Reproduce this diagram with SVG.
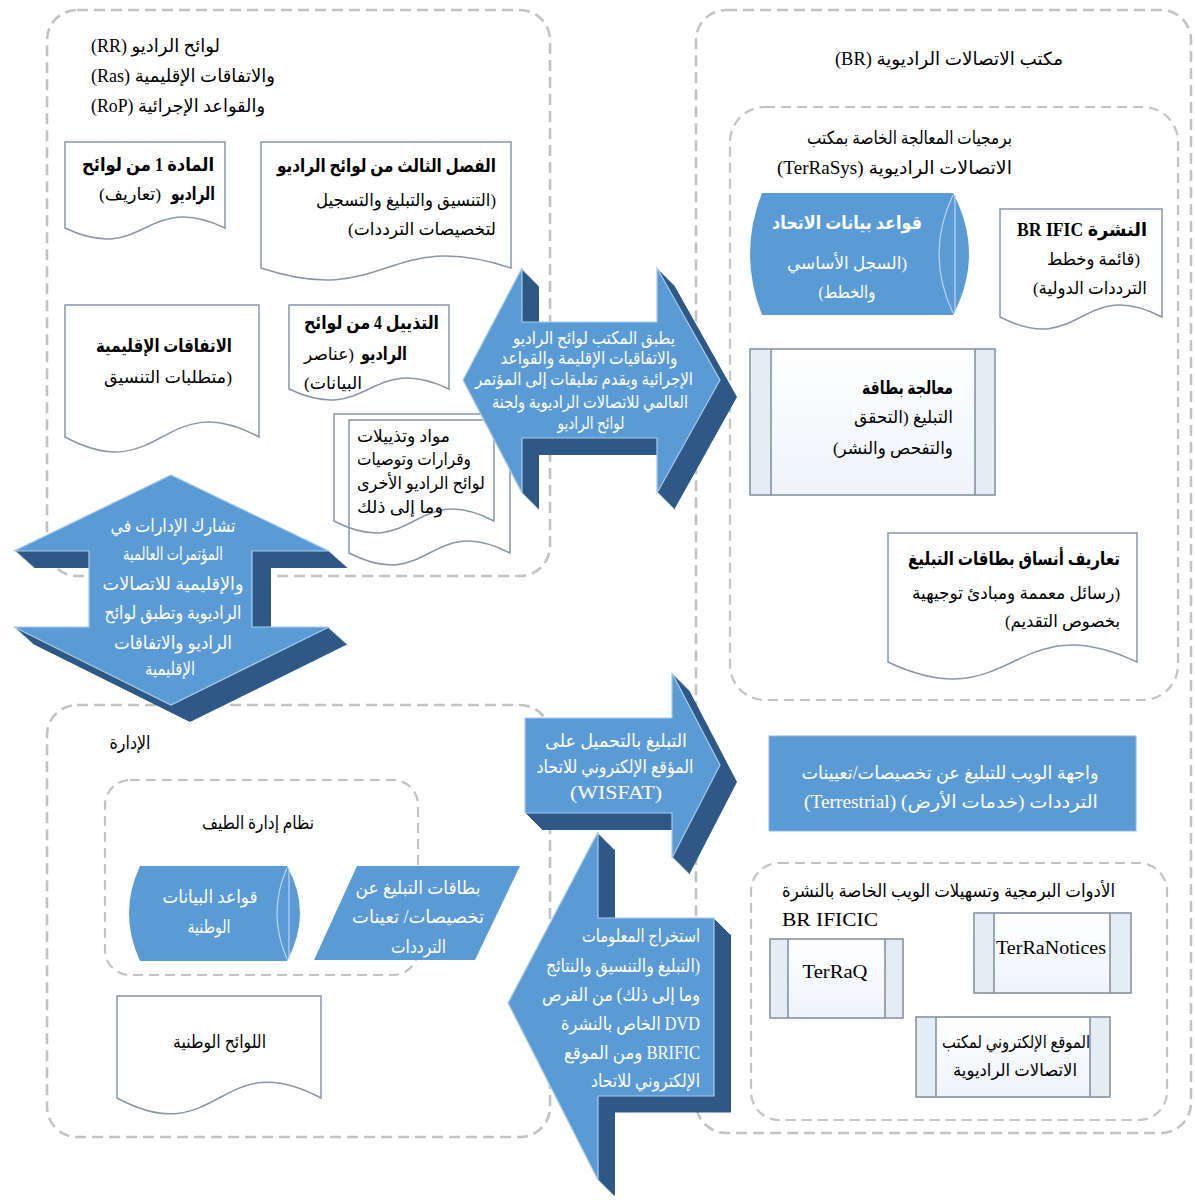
<svg xmlns="http://www.w3.org/2000/svg" width="1195" height="1200" viewBox="0 0 1195 1200">
<style>
.cont{fill:none;stroke:#c3c3c3;stroke-width:2.6;stroke-dasharray:11 6}
.cont2{fill:none;stroke:#c3c3c3;stroke-width:2.2;stroke-dasharray:10 6}
.doc{fill:#fff;stroke:#8796a8;stroke-width:1.5}
.docn{fill:none;stroke:#8796a8;stroke-width:1.5}
.front{fill:#5b9bd5;stroke:#a9cbea;stroke-width:1.2}
.dark{fill:#2e5885}
.blue{fill:#5b9bd5}
.proc{fill:url(#pg);stroke:#7f8c9b;stroke-width:1.5}
.side{fill:#e4edf6}
.pl{stroke:#7f8c9b;stroke-width:1.5;fill:none}
text{font-family:'Liberation Serif','DejaVu Sans',serif;font-size:17.5px;fill:#000;direction:rtl;unicode-bidi:embed}
.w{fill:#fff}
.b{font-weight:bold;font-size:18.5px}
.t{font-size:18px}
.lat{font-family:'Liberation Serif',serif;font-size:19px;direction:ltr}
</style>
<defs>
<linearGradient id="pg" x1="0" y1="0" x2="0" y2="1"><stop offset="0" stop-color="#ffffff"/><stop offset="1" stop-color="#eef4fa"/></linearGradient>
<polygon id="ca" points="463,380 522,268 522,322 657,322 657,268 720,380 657,493 657,438 522,438 522,493"/>
<polygon id="ud" points="171,475 329,551 252,551 252,627 329,627 171,705 14,627 89,627 89,551 14,551"/>
<polygon id="wa" points="525,718 672,718 672,673 720,765 672,858 672,813 525,813"/>
<polygon id="ex" points="508,1003 598,832 598,918 714,918 714,1096 598,1096 598,1180"/>
</defs>

<g id="containers">
<rect id="grp-rr" class="cont" x="47" y="10" width="503" height="566" rx="30"/>
<rect id="grp-admin" class="cont" x="47" y="705" width="503" height="432" rx="30"/>
<rect id="grp-br" class="cont" x="696" y="10" width="495" height="1123" rx="30"/>
<rect id="grp-terrasys" class="cont2" x="730" y="107" width="448" height="593" rx="35"/>
<rect id="grp-tools" class="cont2" x="751" y="863" width="416" height="257" rx="28"/>
<rect id="grp-sms" class="cont2" x="105" y="780" width="313" height="195" rx="25"/>
<text x="155.5" y="52" text-anchor="middle" textLength="129" lengthAdjust="spacingAndGlyphs" class="t">لوائح الراديو (RR)</text>
<text x="183" y="82" text-anchor="middle" textLength="184" lengthAdjust="spacingAndGlyphs" class="t">والاتفاقات الإقليمية (Ras)</text>
<text x="178" y="112" text-anchor="middle" textLength="174" lengthAdjust="spacingAndGlyphs" class="t">والقواعد الإجرائية (RoP)</text>
<text x="130" y="749" text-anchor="middle" textLength="41" lengthAdjust="spacingAndGlyphs" class="t">الإدارة</text>
<text x="258" y="829" text-anchor="middle" textLength="112" lengthAdjust="spacingAndGlyphs" class="t">نظام إدارة الطيف</text>
<text x="949" y="65" text-anchor="middle" textLength="228" lengthAdjust="spacingAndGlyphs" class="t">مكتب الاتصالات الراديوية (BR)</text>
<text x="909.5" y="144" text-anchor="middle" textLength="205" lengthAdjust="spacingAndGlyphs" class="t">برمجيات المعالجة الخاصة بمكتب</text>
<text x="894.5" y="174" text-anchor="middle" textLength="235" lengthAdjust="spacingAndGlyphs" class="t">الاتصالات الراديوية (TerRaSys)</text>
<text x="948.5" y="897" text-anchor="middle" textLength="333" lengthAdjust="spacingAndGlyphs" class="t">الأدوات البرمجية وتسهيلات الويب الخاصة بالنشرة</text>
<text x="830" y="926" text-anchor="middle" textLength="96" lengthAdjust="spacingAndGlyphs" class="lat">BR IFICIC</text>
</g>

<g id="node-art1">
<path class="doc" d="M65,142 H225 V228 C145,190 145,266 65,228 Z"/>
<text x="148" y="171" text-anchor="middle" textLength="132" lengthAdjust="spacingAndGlyphs" class="b">المادة 1 من لوائح</text>
<text x="193" y="200" text-anchor="middle" textLength="44" lengthAdjust="spacingAndGlyphs" class="b">الراديو</text>
<text x="130" y="200" text-anchor="middle" textLength="62" lengthAdjust="spacingAndGlyphs">(تعاريف)</text>
</g>

<g id="node-ch3">
<path class="doc" d="M261,142 H511 V268 C386,226.5 386,309.5 261,268 Z"/>
<text x="386.5" y="172" text-anchor="middle" textLength="219" lengthAdjust="spacingAndGlyphs" class="b">الفصل الثالث من لوائح الراديو</text>
<text x="406" y="206" text-anchor="middle" textLength="180" lengthAdjust="spacingAndGlyphs">(التنسيق والتبليغ والتسجيل</text>
<text x="422" y="235" text-anchor="middle" textLength="148" lengthAdjust="spacingAndGlyphs">لتخصيصات الترددات)</text>
</g>

<g id="node-ra">
<path class="doc" d="M65,305 H259 V437 C162,385 162,489 65,437 Z"/>
<text x="164" y="352" text-anchor="middle" textLength="136" lengthAdjust="spacingAndGlyphs" class="b">الاتفاقات الإقليمية</text>
<text x="168" y="383" text-anchor="middle" textLength="128" lengthAdjust="spacingAndGlyphs">(متطلبات التنسيق</text>
</g>

<g id="node-ap4">
<path class="doc" d="M289,305 H449 V389 C369,351 369,427 289,389 Z"/>
<text x="371.5" y="329" text-anchor="middle" textLength="135" lengthAdjust="spacingAndGlyphs" class="b">التذييل 4 من لوائح</text>
<text x="384" y="360" text-anchor="middle" textLength="46" lengthAdjust="spacingAndGlyphs" class="b">الراديو</text>
<text x="329" y="360" text-anchor="middle" textLength="50" lengthAdjust="spacingAndGlyphs">(عناصر</text>
<text x="333" y="389" text-anchor="middle" textLength="58" lengthAdjust="spacingAndGlyphs">البيانات)</text>
</g>

<g id="node-other">
<path class="doc" d="M349,420 H510 V553 C429.5,511.5 429.5,594.5 349,553 Z"/>
<path class="docn" d="M334,414 H494 V521 C414,479.5 414,562.5 334,521 Z"/>
<text x="403.5" y="442" text-anchor="middle" textLength="93" lengthAdjust="spacingAndGlyphs">مواد وتذييلات</text>
<text x="414" y="465" text-anchor="middle" textLength="114" lengthAdjust="spacingAndGlyphs">وقرارات وتوصيات</text>
<text x="421" y="489" text-anchor="middle" textLength="128" lengthAdjust="spacingAndGlyphs">لوائح الراديو الأخرى</text>
<text x="400" y="513" text-anchor="middle" textLength="86" lengthAdjust="spacingAndGlyphs">وما إلى ذلك</text>
</g>

<g id="node-itudb">
<path class="blue" d="M762,193 H953 Q985,254 953,315 H762 Q738,254 762,193 Z"/>
<path d="M953,195 Q925,254 953,313 M955,195 V313" fill="none" stroke="#bcd6ee" stroke-width="1.2"/>
<text x="847" y="229" text-anchor="middle" textLength="150" lengthAdjust="spacingAndGlyphs" class="b w">قواعد بيانات الاتحاد</text>
<text x="847" y="269" text-anchor="middle" textLength="120" lengthAdjust="spacingAndGlyphs" class="w">(السجل الأساسي</text>
<text x="847" y="298" text-anchor="middle" textLength="57" lengthAdjust="spacingAndGlyphs" class="w">والخطط)</text>
</g>

<g id="node-ific">
<path class="doc" d="M1000,209 H1162 V317 C1081,275.5 1081,358.5 1000,317 Z"/>
<text x="1082" y="236" text-anchor="middle" textLength="130" lengthAdjust="spacingAndGlyphs" class="b">النشرة BR IFIC</text>
<text x="1093.5" y="265" text-anchor="middle" textLength="93" lengthAdjust="spacingAndGlyphs">(قائمة وخطط</text>
<text x="1090" y="294" text-anchor="middle" textLength="114" lengthAdjust="spacingAndGlyphs">الترددات الدولية)</text>
</g>

<g id="node-proc">
<rect class="proc" x="750" y="349" width="245" height="146"/>
<rect class="side" x="751" y="350" width="20" height="144"/>
<rect class="side" x="975" y="350" width="19" height="144"/>
<path class="pl" d="M771,349 V495 M975,349 V495"/>
<text x="907.5" y="394" text-anchor="middle" textLength="91" lengthAdjust="spacingAndGlyphs" class="b">معالجة بطاقة</text>
<text x="903.5" y="423" text-anchor="middle" textLength="99" lengthAdjust="spacingAndGlyphs">التبليغ (التحقق</text>
<text x="893" y="454" text-anchor="middle" textLength="120" lengthAdjust="spacingAndGlyphs">والتفحص والنشر)</text>
</g>

<g id="node-formats">
<path class="doc" d="M888,533 H1137 V662 C1012.5,603 1012.5,721 888,662 Z"/>
<text x="1014" y="565" text-anchor="middle" textLength="212" lengthAdjust="spacingAndGlyphs" class="b">تعاريف أنساق بطاقات التبليغ</text>
<text x="1016" y="599" text-anchor="middle" textLength="208" lengthAdjust="spacingAndGlyphs">(رسائل معممة ومبادئ توجيهية</text>
<text x="1062.5" y="627" text-anchor="middle" textLength="115" lengthAdjust="spacingAndGlyphs">بخصوص التقديم)</text>
</g>

<g id="node-webif">
<rect x="769" y="736" width="367" height="95" fill="#5b9bd5" stroke="#8fb8e2" stroke-width="1"/>
<text x="950" y="779" text-anchor="middle" textLength="297" lengthAdjust="spacingAndGlyphs" class="w t">واجهة الويب للتبليغ عن تخصيصات/تعيينات</text>
<text x="951" y="808" text-anchor="middle" textLength="294" lengthAdjust="spacingAndGlyphs" class="w t">الترددات (خدمات الأرض) (Terrestrial)</text>
</g>

<g id="node-terraq">
<rect class="proc" x="770" y="939" width="133" height="79"/>
<rect class="side" x="771" y="940" width="17" height="77"/>
<rect class="side" x="885" y="940" width="17" height="77"/>
<path class="pl" d="M788,939 V1018 M885,939 V1018"/>
<text x="835" y="978" text-anchor="middle" textLength="65" lengthAdjust="spacingAndGlyphs" class="lat">TerRaQ</text>
</g>

<g id="node-terranotices">
<rect class="proc" x="974" y="913" width="157" height="80"/>
<rect class="side" x="975" y="914" width="19" height="78"/>
<rect class="side" x="1110" y="914" width="20" height="78"/>
<path class="pl" d="M994,913 V993 M1110,913 V993"/>
<text x="1051" y="954" text-anchor="middle" textLength="110" lengthAdjust="spacingAndGlyphs" class="lat">TerRaNotices</text>
</g>

<g id="node-brweb">
<rect class="proc" x="916" y="1017" width="194" height="80"/>
<rect class="side" x="917" y="1018" width="19" height="78"/>
<rect class="side" x="1090" y="1018" width="19" height="78"/>
<path class="pl" d="M936,1017 V1097 M1090,1017 V1097"/>
<text x="1016" y="1048" text-anchor="middle" textLength="148" lengthAdjust="spacingAndGlyphs">الموقع الإلكتروني لمكتب</text>
<text x="1015" y="1076" text-anchor="middle" textLength="124" lengthAdjust="spacingAndGlyphs">الاتصالات الراديوية</text>
</g>

<g id="node-natdb">
<path class="blue" d="M140,866 H287 Q313,913 287,961 H140 Q118,913 140,866 Z"/>
<path d="M287,868 Q267,913 287,959 M289,868 V959" fill="none" stroke="#bcd6ee" stroke-width="1.2"/>
<text x="210" y="903" text-anchor="middle" textLength="95" lengthAdjust="spacingAndGlyphs" class="w t">قواعد البيانات</text>
<text x="209" y="933" text-anchor="middle" textLength="43" lengthAdjust="spacingAndGlyphs" class="w t">الوطنية</text>
</g>

<g id="node-natcards">
<polygon class="blue" points="357,866 520,866 475,960 314,960"/>
<text x="418" y="894" text-anchor="middle" textLength="125" lengthAdjust="spacingAndGlyphs" class="w t">بطاقات التبليغ عن</text>
<text x="418" y="923" text-anchor="middle" textLength="132" lengthAdjust="spacingAndGlyphs" class="w t">تخصيصات/ تعينات</text>
<text x="418.5" y="953" text-anchor="middle" textLength="55" lengthAdjust="spacingAndGlyphs" class="w t">الترددات</text>
</g>

<g id="node-natregs">
<path class="doc" d="M117,996 H321 V1098 C219,1043 219,1153 117,1098 Z"/>
<text x="219.5" y="1048" text-anchor="middle" textLength="93" lengthAdjust="spacingAndGlyphs" class="t">اللوائح الوطنية</text>
</g>

<g id="connectors">
<g id="arrow-central">
<g class="dark">
<use href="#ca" x="1" y="1"/><use href="#ca" x="2" y="2"/><use href="#ca" x="3" y="3"/><use href="#ca" x="4" y="4"/><use href="#ca" x="5" y="5"/><use href="#ca" x="6" y="6"/><use href="#ca" x="7" y="7"/><use href="#ca" x="8" y="8"/><use href="#ca" x="9" y="9"/><use href="#ca" x="10" y="10"/><use href="#ca" x="11" y="11"/><use href="#ca" x="12" y="12"/><use href="#ca" x="13" y="13"/><use href="#ca" x="14" y="14"/><use href="#ca" x="15" y="15"/><use href="#ca" x="16" y="16"/><use href="#ca" x="17" y="17"/>
</g>
<use href="#ca" class="front"/>
<text x="594" y="344" text-anchor="middle" textLength="162" lengthAdjust="spacingAndGlyphs" class="w">يطبق المكتب لوائح الراديو</text>
<text x="589" y="364" text-anchor="middle" textLength="177" lengthAdjust="spacingAndGlyphs" class="w">والاتفاقيات الإقليمة والقواعد</text>
<text x="584" y="385" text-anchor="middle" textLength="218" lengthAdjust="spacingAndGlyphs" class="w">الإجرائية ويقدم تعليقات إلى المؤتمر</text>
<text x="590" y="408" text-anchor="middle" textLength="196" lengthAdjust="spacingAndGlyphs" class="w">العالمي للاتصالات الراديوية ولجنة</text>
<text x="591" y="429" text-anchor="middle" textLength="67" lengthAdjust="spacingAndGlyphs" class="w">لوائح الراديو</text>
</g>

<g id="arrow-updown">
<g class="dark">
<use href="#ud" x="1.1" y="1"/><use href="#ud" x="2.2" y="2"/><use href="#ud" x="3.4" y="3"/><use href="#ud" x="4.5" y="4"/><use href="#ud" x="5.6" y="5"/><use href="#ud" x="6.7" y="6"/><use href="#ud" x="7.8" y="7"/><use href="#ud" x="8.9" y="8"/><use href="#ud" x="10.1" y="9"/><use href="#ud" x="11.2" y="10"/><use href="#ud" x="12.3" y="11"/><use href="#ud" x="13.4" y="12"/><use href="#ud" x="14.5" y="13"/><use href="#ud" x="15.6" y="14"/><use href="#ud" x="16.8" y="15"/><use href="#ud" x="17.9" y="16"/><use href="#ud" x="19" y="17"/>
</g>
<use href="#ud" class="front"/>
<text x="173" y="532" text-anchor="middle" textLength="125" lengthAdjust="spacingAndGlyphs" class="w t">تشارك الإدارات في</text>
<text x="173" y="560" text-anchor="middle" textLength="100" lengthAdjust="spacingAndGlyphs" class="w t">المؤتمرات العالمية</text>
<text x="173" y="590" text-anchor="middle" textLength="141" lengthAdjust="spacingAndGlyphs" class="w t">والإقليمية للاتصالات</text>
<text x="173" y="619" text-anchor="middle" textLength="137" lengthAdjust="spacingAndGlyphs" class="w t">الراديوية وتطبق لوائح</text>
<text x="173" y="649" text-anchor="middle" textLength="118" lengthAdjust="spacingAndGlyphs" class="w t">الراديو والاتفاقات</text>
<text x="170" y="675" text-anchor="middle" textLength="50" lengthAdjust="spacingAndGlyphs" class="w t">الإقليمية</text>
</g>

<g id="arrow-wisfat">
<g class="dark">
<use href="#wa" x="1" y="1"/><use href="#wa" x="2" y="2"/><use href="#wa" x="3" y="3"/><use href="#wa" x="4" y="4"/><use href="#wa" x="5" y="5"/><use href="#wa" x="6" y="6"/><use href="#wa" x="7" y="7"/><use href="#wa" x="8" y="8"/><use href="#wa" x="9" y="9"/><use href="#wa" x="10" y="10"/><use href="#wa" x="11" y="11"/><use href="#wa" x="12" y="12"/><use href="#wa" x="13" y="13"/><use href="#wa" x="14" y="14"/><use href="#wa" x="15" y="15"/><use href="#wa" x="16" y="16"/><use href="#wa" x="17" y="17"/>
</g>
<use href="#wa" class="front"/>
<text x="616" y="747" text-anchor="middle" textLength="142" lengthAdjust="spacingAndGlyphs" class="w t">التبليغ بالتحميل على</text>
<text x="615" y="773" text-anchor="middle" textLength="157" lengthAdjust="spacingAndGlyphs" class="w t">المؤقع الإلكتروني للاتحاد</text>
<text x="616" y="799" text-anchor="middle" textLength="92" lengthAdjust="spacingAndGlyphs" class="w lat">(WISFAT)</text>
</g>

<g id="arrow-extract">
<g class="dark">
<use href="#ex" x="1" y="1"/><use href="#ex" x="2" y="2"/><use href="#ex" x="3" y="3"/><use href="#ex" x="4" y="4"/><use href="#ex" x="5" y="5"/><use href="#ex" x="6" y="6"/><use href="#ex" x="7" y="7"/><use href="#ex" x="8" y="8"/><use href="#ex" x="9" y="9"/><use href="#ex" x="10" y="10"/><use href="#ex" x="11" y="11"/><use href="#ex" x="12" y="12"/><use href="#ex" x="13" y="13"/><use href="#ex" x="14" y="14"/><use href="#ex" x="15" y="15"/><use href="#ex" x="16" y="16"/><use href="#ex" x="17" y="16.5"/>
</g>
<use href="#ex" class="front"/>
<text x="641" y="942" text-anchor="middle" textLength="118" lengthAdjust="spacingAndGlyphs" class="w t">استخراج المعلومات</text>
<text x="623" y="972" text-anchor="middle" textLength="154" lengthAdjust="spacingAndGlyphs" class="w t">(التبليغ والتنسيق والنتائج</text>
<text x="621" y="1001" text-anchor="middle" textLength="158" lengthAdjust="spacingAndGlyphs" class="w t">وما إلى ذلك) من القرص</text>
<text x="630.5" y="1030" text-anchor="middle" textLength="139" lengthAdjust="spacingAndGlyphs" class="w t">DVD الخاص بالنشرة</text>
<text x="632" y="1059" text-anchor="middle" textLength="136" lengthAdjust="spacingAndGlyphs" class="w t">BRIFIC ومن الموقع</text>
<text x="645.5" y="1087" text-anchor="middle" textLength="109" lengthAdjust="spacingAndGlyphs" class="w t">الإلكتروني للاتحاد</text>
</g>
</g>
</svg>
